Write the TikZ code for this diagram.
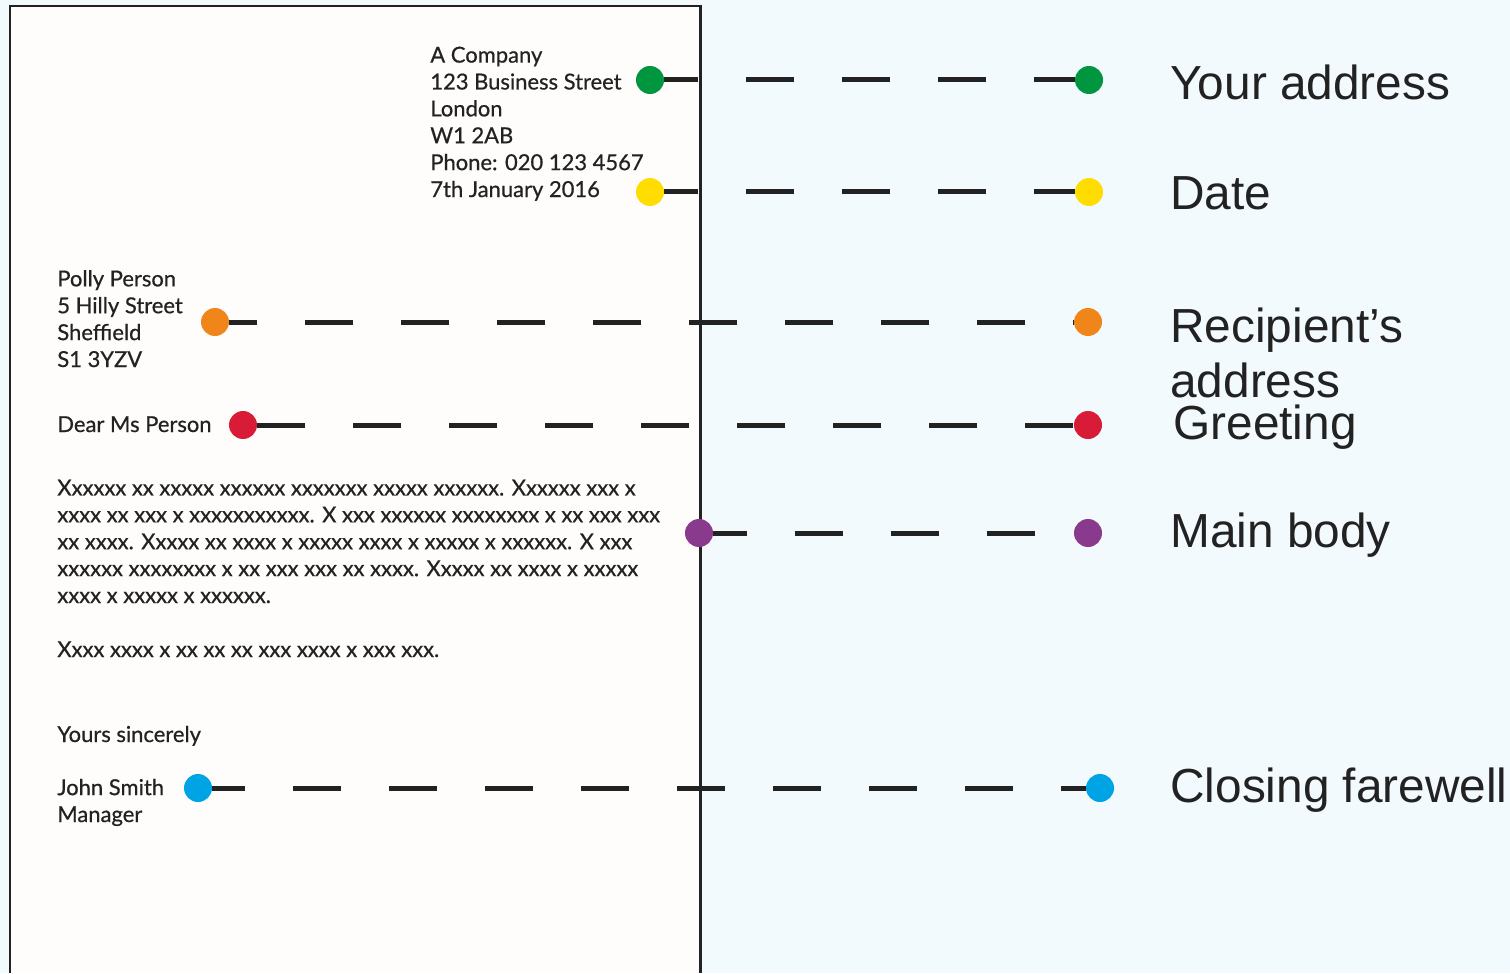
\documentclass[tikz,border=0pt]{standalone}
\usepackage{fontspec}
\setmainfont{Liberation Sans}
\newfontfamily\letterfont[FakeBold=0.6]{Lato}
\usepackage{xcolor}
\usepackage{tikz}
\usetikzlibrary{positioning}
\definecolor{bgblue}{HTML}{F3FAFE}
\definecolor{paper}{HTML}{FEFDFB}
\definecolor{ink}{HTML}{222222}
\definecolor{dotgreen}{HTML}{00963F}
\definecolor{dotyellow}{HTML}{FFDD00}
\definecolor{dotorange}{HTML}{F08519}
\definecolor{dotred}{HTML}{D81B36}
\definecolor{dotpurple}{HTML}{8A3A8C}
\definecolor{dotblue}{HTML}{00A3E4}
\tikzset{
    lettertext/.style={
        anchor=base west,
        inner sep=0pt,
        align=left,
        text=ink,
        font=\letterfont\fontsize{12.5pt}{15.3pt}\selectfont
    },
    partlabel/.style={
        anchor=base west,
        inner sep=0pt,
        align=left,
        text=ink,
        font=\fontsize{27.2pt}{31.2pt}\selectfont
    },
    dot/.style={
        circle,
        inner sep=0pt,
        minimum size=0.56cm,
        fill=#1
    },
    leader/.style={
        draw=ink,
        line width=0.1cm,
        dash pattern=on 0.96cm off 0.96cm,
        dash phase=#1
    }
}

\begin{document}
\begin{tikzpicture}[x=0.02cm, y=-0.02cm]
\useasboundingbox (0,0) rectangle (1510,973);
\fill[bgblue] (0,0) rectangle (1510,973);
\fill[paper] (10,6) rectangle (700,973);
\draw[ink, line width=1.7pt] (10,973) -- (10,6) -- (700,6) -- (700,973);

\node[lettertext] (sender) at (430,197) {A Company\\123 Business Street\\London\\W1 2AB\\Phone: 020 123 4567\\7th January 2016};
\node[lettertext] (recipient) at (57,367) {Polly Person\\5 Hilly Street\\Sheffield\\S1 3YZV};
\node[lettertext] (greeting) at (57,432) {Dear Ms Person};
\node[lettertext] (body) at (57,603) {Xxxxxx xx xxxxx xxxxxx xxxxxxx xxxxx xxxxxx. Xxxxxx xxx x\\xxxx xx xxx x xxxxxxxxxxx. X xxx xxxxxx xxxxxxxx x xx xxx xxx\\xx xxxx. Xxxxx xx xxxx x xxxxx xxxx x xxxxx x xxxxxx. X xxx\\xxxxxx xxxxxxxx x xx xxx xxx xx xxxx. Xxxxx xx xxxx x xxxxx\\xxxx x xxxxx x xxxxxx.};
\node[lettertext] (closing) at (57,657) {Xxxx xxxx x xx xx xx xxx xxxx x xxx xxx.};
\node[lettertext] (farewell) at (57,742) {Yours sincerely};
\node[lettertext] (signature) at (57,822) {John Smith\\Manager};

\node[dot=dotgreen] (greenL) at (650,80) {};
\node[dot=dotgreen] (greenR) at (1089,80) {};
\node[dot=dotyellow] (yellowL) at (650,192) {};
\node[dot=dotyellow] (yellowR) at (1089,192) {};
\node[dot=dotorange] (orangeL) at (215,322) {};
\node[dot=dotorange] (orangeR) at (1088,322) {};
\node[dot=dotred] (redL) at (243,425) {};
\node[dot=dotred] (redR) at (1088,425) {};
\node[dot=dotpurple] (purpleL) at (699,533) {};
\node[dot=dotpurple] (purpleR) at (1088,533) {};
\node[dot=dotblue] (blueL) at (198,788) {};
\node[dot=dotblue] (blueR) at (1100,788) {};

\draw[leader=0.28cm] (greenL) -- (greenR);
\draw[leader=0.28cm] (yellowL) -- (yellowR);
\draw[leader=0.4cm] (orangeL) -- (orangeR);
\draw[leader=0cm] (redL) -- (redR);
\draw[leader=0.28cm] (purpleL) -- (purpleR);
\draw[leader=0.3cm] (blueL) -- (blueR);

\node[partlabel] (youraddress) at (1170,100) {Your address};
\node[partlabel] (date) at (1170,210) {Date};
\node[partlabel] (recipaddress) at (1170,397) {Recipient’s\\address};
\node[partlabel] (greetlabel) at (1173,439) {Greeting};
\node[partlabel] (mainbody) at (1170,547) {Main body};
\node[partlabel] (closelabel) at (1170,802) {Closing farewell};
\end{tikzpicture}
\end{document}
